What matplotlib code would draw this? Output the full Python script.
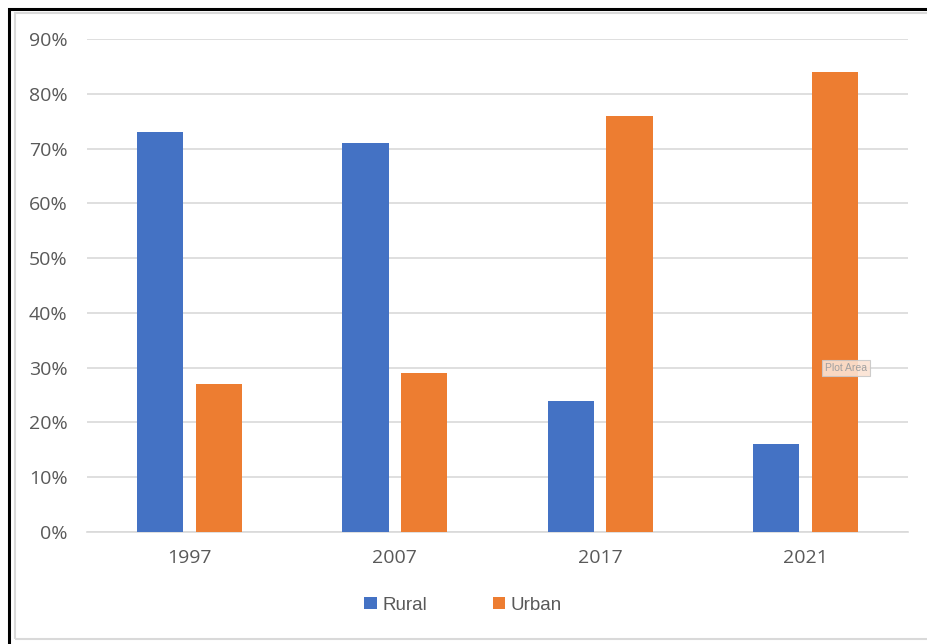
import matplotlib.pyplot as plt
import matplotlib.patches as mpatches
import numpy as np

years = ["1997", "2007", "2017", "2021"]
rural = [73, 71, 24, 16]
urban = [27, 29, 76, 84]
y_ticks = [0, 10, 20, 30, 40, 50, 60, 70, 80, 90]

blue = "#4472C4"
orange = "#ED7D31"
grey_txt = "#595959"

fig = plt.figure(figsize=(9.27, 6.44), dpi=100)
W, H = 927, 644

# outer black frame and inner light frame
fig.patches.append(mpatches.Rectangle((9 / W, -0.05), 1.1, 1 - 9 / H + 0.05, transform=fig.transFigure,
                                      fill=False, edgecolor="black", linewidth=2.2))
fig.patches.append(mpatches.Rectangle((15 / W, 5 / H), 1.1, 1 - 18 / H, transform=fig.transFigure,
                                      fill=False, edgecolor="#d9d9d9", linewidth=1.5))

ax = fig.add_axes([87 / W, 1 - 532 / H, (908 - 87) / W, (532 - 39) / H])
x = np.arange(len(years))
bw = 0.225
ax.bar(x - 0.143, rural, bw, color=blue, label="Rural", zorder=3)
ax.bar(x + 0.143, urban, bw, color=orange, label="Urban", zorder=3)

ax.set_xlim(-0.5, 3.5)
ax.set_ylim(0, 90)
ax.set_yticks(y_ticks)
ax.set_yticklabels([f"{v}%" for v in y_ticks])
ax.set_xticks(x)
ax.set_xticklabels(years)
ax.grid(axis="y", color="#d9d9d9", linewidth=1.2, zorder=0)
for s in ["top", "right", "left"]:
    ax.spines[s].set_visible(False)
ax.spines["bottom"].set_color("#d9d9d9")
ax.spines["bottom"].set_linewidth(1.2)
ax.tick_params(axis="both", length=0, labelsize=14, labelcolor=grey_txt)
ax.tick_params(axis="x", pad=12)
ax.tick_params(axis="y", pad=14)
for t in ax.get_xticklabels() + ax.get_yticklabels():
    t.set_family("Open Sans")

leg = fig.legend(loc="center", bbox_to_anchor=(463 / W, 1 - 605 / H), ncol=2, frameon=False,
                 handlelength=0.65, handleheight=0.65, columnspacing=3.5, handletextpad=0.3,
                 prop={"family": "Liberation Sans", "size": 13.5})
for t in leg.get_texts():
    t.set_color(grey_txt)

# "Plot Area" hover tooltip
fig.text(846 / W, 1 - 368 / H, "Plot Area", ha="center", va="center", fontsize=7.5, color="#a0a0a0",
         family="Liberation Sans",
         bbox=dict(boxstyle="square,pad=0.3", facecolor="#fbe3d3", edgecolor="#c8c8c8", linewidth=0.8, alpha=0.9))

fig.savefig("out.png", dpi=100)
